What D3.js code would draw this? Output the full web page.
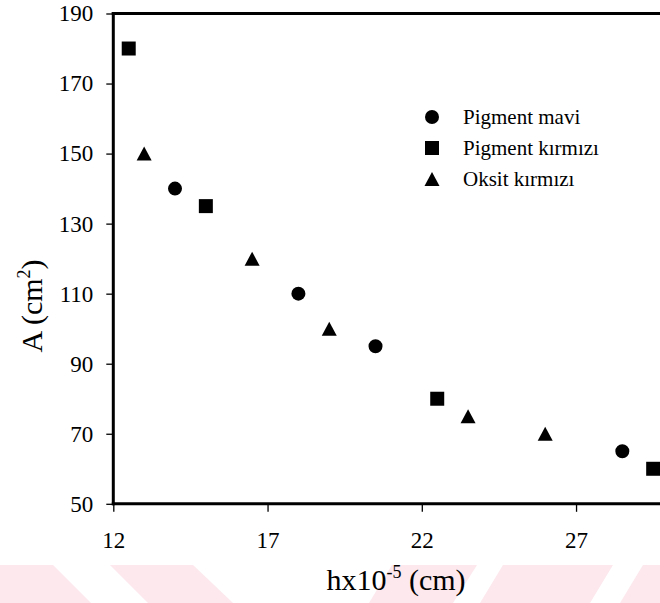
<!DOCTYPE html>
<html>
<head>
<meta charset="utf-8">
<script src="https://cdn.jsdelivr.net/npm/d3@7"></script>
<style>
  html, body { margin: 0; padding: 0; background: #fff; }
  svg { display: block; }
</style>
</head>
<body>
<svg id="chart" width="660" height="603"></svg>
<script>
// Series: hx10^-5 (cm) against A (cm^2)
const seriesNames = ["Pigment mavi", "Pigment kırmızı", "Oksit kırmızı"];
const maviX = [14, 18, 20.5, 28.5];
const maviY = [140, 110, 95, 65];
const kirmiziX = [12.5, 15, 22.5, 29.5];
const kirmiziY = [180, 135, 80, 60];
const oksitX = [13, 16.5, 19, 23.5, 26];
const oksitY = [150, 120, 100, 75, 70];
const xTicks = [12, 17, 22, 27];
const yTicks = [50, 70, 90, 110, 130, 150, 170, 190];

const W = 660, H = 603;
const svg = d3.select("#chart");
const FONT = "'Liberation Serif', 'Times New Roman', serif";

svg.append("rect").attr("width", W).attr("height", H).attr("fill", "#fff");

// faint background band along the bottom edge
const band = [
  [[0, 565], [53, 565], [91, 603], [0, 603]],
  [[110, 565], [193, 565], [233, 603], [148, 603]],
  [[392, 565], [477, 565], [453, 603], [369, 603]],
  [[503, 565], [613, 565], [590, 603], [480, 603]],
  [[643, 565], [660, 565], [660, 603], [620, 603]]
];
svg.append("g").selectAll("path").data(band).join("path")
  .attr("d", p => "M" + p.map(q => q.join(",")).join("L") + "Z")
  .attr("fill", "#fce8ed");

const plotLeft = 113.3, plotTop = 13.5, plotBottom = 503.8;
const x = d3.scaleLinear().domain([12, 32]).range([plotLeft, plotLeft + 20 * 30.85]);
const y = d3.scaleLinear().domain([50, 190]).range([plotBottom, plotTop]);

// axes
const xAxis = svg.append("g").attr("transform", `translate(0,${plotBottom})`)
  .call(d3.axisBottom(x).tickValues(xTicks).tickSize(8).tickPadding(20).tickFormat(d3.format("d")));
const yAxis = svg.append("g").attr("transform", `translate(${plotLeft},0)`)
  .call(d3.axisLeft(y).tickValues(yTicks).tickSize(7).tickPadding(13).tickFormat(d3.format("d")));

[xAxis, yAxis].forEach(g => {
  g.select(".domain").remove();
  g.selectAll(".tick line").attr("stroke", "#000").attr("stroke-width", 1.3);
  g.selectAll(".tick text").attr("fill", "#000")
    .style("font-family", FONT).style("font-size", "23px");
});

// frame lines: left, bottom, top
svg.append("line").attr("x1", plotLeft).attr("x2", plotLeft).attr("y1", plotTop - 1.5).attr("y2", plotBottom + 1.5)
  .attr("stroke", "#000").attr("stroke-width", 3);
svg.append("line").attr("x1", plotLeft - 1.5).attr("x2", W).attr("y1", plotBottom).attr("y2", plotBottom)
  .attr("stroke", "#000").attr("stroke-width", 3);
svg.append("line").attr("x1", plotLeft - 1.5).attr("x2", W).attr("y1", plotTop).attr("y2", plotTop)
  .attr("stroke", "#000").attr("stroke-width", 3);

// marker shapes
const R = 7;
const shape = {
  circle: (cx, cy) => `M${cx - R},${cy}A${R},${R} 0 1,0 ${cx + R},${cy}A${R},${R} 0 1,0 ${cx - R},${cy}Z`,
  square: (cx, cy) => `M${cx - R},${cy - R}H${cx + R}V${cy + R}H${cx - R}Z`,
  triangle: (cx, cy) => `M${cx},${cy - R}L${cx + R + 0.5},${cy + R}H${cx - R - 0.5}Z`
};

const series = [
  { name: seriesNames[0], xs: maviX, ys: maviY, kind: "circle" },
  { name: seriesNames[1], xs: kirmiziX, ys: kirmiziY, kind: "square" },
  { name: seriesNames[2], xs: oksitX, ys: oksitY, kind: "triangle" }
];

const plot = svg.append("g");
series.forEach(s => {
  plot.selectAll(null).data(s.xs.map((v, i) => [v, s.ys[i]])).join("path")
    .attr("d", d => shape[s.kind](x(d[0]), y(d[1])))
    .attr("fill", "#000");
});

// legend
const legend = svg.append("g").attr("transform", "translate(432,117)");
series.forEach((s, i) => {
  const gy = i * 31;
  legend.append("path").attr("d", shape[s.kind](0, gy)).attr("fill", "#000");
  legend.append("text").attr("x", 31).attr("y", gy + 7)
    .style("font-family", FONT).style("font-size", "21px").attr("fill", "#000")
    .text(s.name);
});

// axis titles
const xt = svg.append("text").attr("x", 396).attr("y", 590).attr("text-anchor", "middle")
  .style("font-family", FONT).style("font-size", "30px").attr("fill", "#000");
xt.append("tspan").text("hx10");
xt.append("tspan").attr("dy", -12).style("font-size", "18px").text("-5");
xt.append("tspan").attr("dy", 12).text(" (cm)");

const yt = svg.append("text").attr("transform", "translate(42,306) rotate(-90)")
  .attr("text-anchor", "middle")
  .style("font-family", FONT).style("font-size", "30px").attr("fill", "#000");
yt.append("tspan").text("A (cm");
yt.append("tspan").attr("dy", -12).style("font-size", "18px").text("2");
yt.append("tspan").attr("dy", 12).text(")");
</script>
</body>
</html>
